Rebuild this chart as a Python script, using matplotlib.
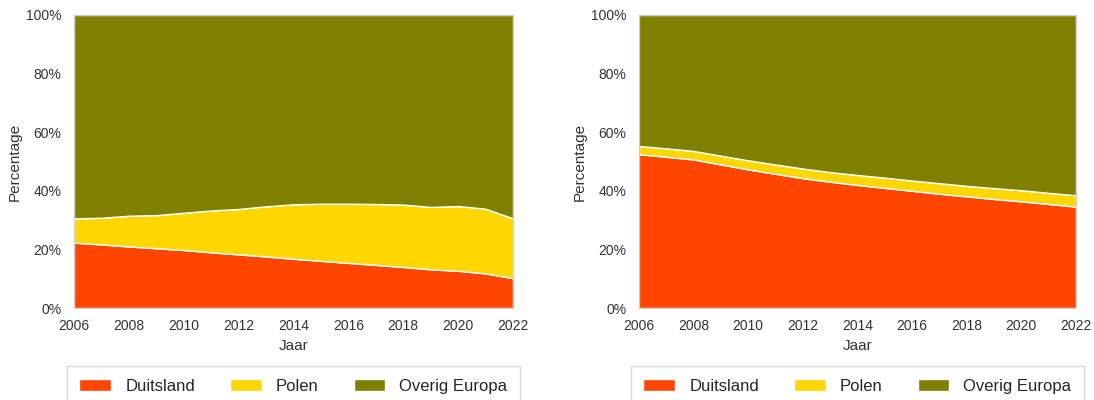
import matplotlib.pyplot as plt
from matplotlib.ticker import PercentFormatter
import seaborn as sns

jaren = list(range(2006, 2023))

# linker grafiek (percentages)
duitsland_l = [22.3, 21.7, 21.0, 20.4, 19.8, 19.0, 18.3, 17.6, 16.8, 16.1, 15.4, 14.7, 14.0, 13.2, 12.7, 11.8, 10.2]
polen_l = [8.3, 9.1, 10.5, 11.3, 12.7, 14.3, 15.5, 17.1, 18.6, 19.5, 20.2, 20.8, 21.3, 21.3, 22.1, 22.1, 20.4]

# rechter grafiek
duitsland_r = [52.5, 51.6, 50.7, 49.0, 47.3, 45.8, 44.3, 43.1, 42.0, 41.0, 40.0, 39.0, 38.1, 37.2, 36.4, 35.5, 34.6]
polen_r = [2.8, 2.9, 2.9, 3.0, 3.1, 3.2, 3.3, 3.3, 3.4, 3.5, 3.5, 3.6, 3.6, 3.7, 3.8, 3.8, 3.9]

labels = ['Duitsland', 'Polen', 'Overig Europa']
kleuren = ['#FF4500', '#FFD700', '#808000']

sns.set_style('white')
plt.rcParams['font.family'] = ['Liberation Sans', 'DejaVu Sans']

fig = plt.figure(figsize=(10.94, 4), dpi=100)
posities = [[0.0676, 0.23, 0.4013, 0.7325], [0.584, 0.23, 0.3995, 0.7325]]

for pos, du, po in zip(posities, [duitsland_l, duitsland_r], [polen_l, polen_r]):
    ax = fig.add_axes(pos)
    overig = [100 - a - b for a, b in zip(du, po)]
    ax.stackplot(jaren, du, po, overig, labels=labels, colors=kleuren,
                 edgecolor='white', linewidth=1)
    ax.set_xlim(2006, 2022)
    ax.set_ylim(0, 100)
    ax.set_xticks(range(2006, 2023, 2))
    ax.set_yticks(range(0, 101, 20))
    ax.yaxis.set_major_formatter(PercentFormatter(decimals=0))
    ax.set_xlabel('Jaar', fontsize=11, color='#333333', labelpad=4)
    ax.set_ylabel('Percentage', fontsize=11, color='#333333', labelpad=3)
    ax.tick_params(axis='y', labelsize=10, colors='#333333', length=0, pad=9)
    ax.tick_params(axis='x', labelsize=10, colors='#333333', length=0, pad=8)
    for s in ax.spines.values():
        s.set_color('#cccccc')
    ax.legend(loc='upper center', bbox_to_anchor=(0.5, -0.198), ncol=3,
              fontsize=12, frameon=True, edgecolor='#cccccc', fancybox=False,
              handlelength=1.9, handletextpad=0.85, columnspacing=2.1,
              borderpad=0.75, borderaxespad=0)

plt.savefig('out.png', dpi=100)
